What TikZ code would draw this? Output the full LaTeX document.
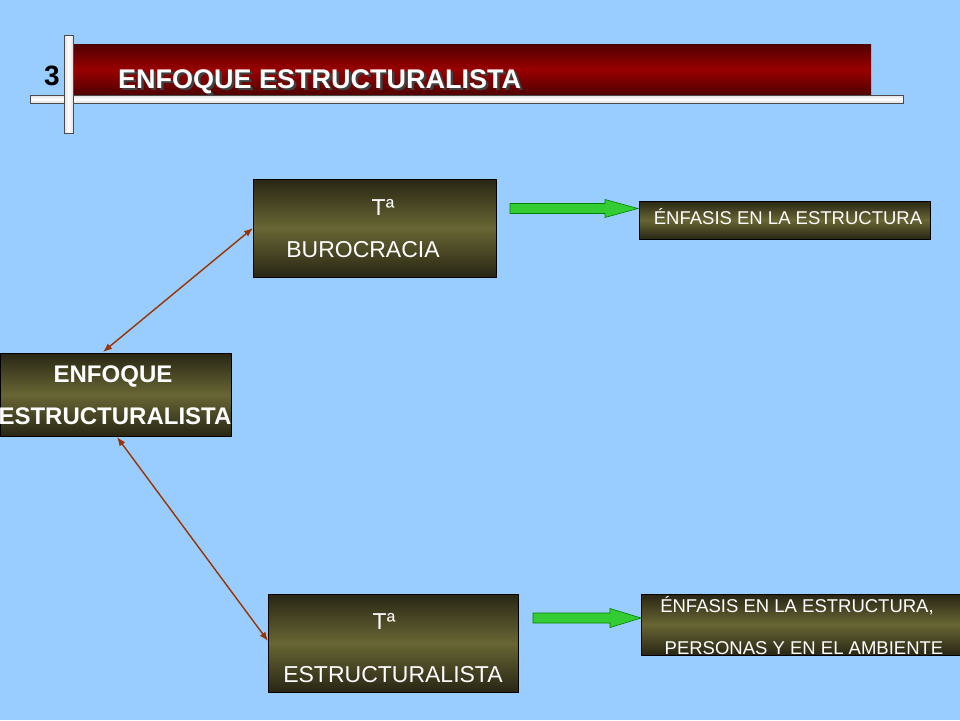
\documentclass[tikz,border=0pt]{standalone}
\usepackage{fontspec}
\setmainfont{Liberation Sans}
\usetikzlibrary{arrows.meta}
\definecolor{bg}{RGB}{153,204,255}
\definecolor{olivemid}{RGB}{104,102,52}
\definecolor{olivedark}{RGB}{40,38,20}
\definecolor{redmid}{RGB}{153,0,0}
\definecolor{reddark}{RGB}{80,0,0}
\definecolor{conn}{RGB}{153,51,0}
\definecolor{greenarr}{RGB}{51,204,51}
\newcommand{\shadowtext}[1]{\rlap{\kern2.5pt\raisebox{-2pt}{\color{black!75}#1}}#1}
\tikzset{
  x=1pt,y=-1pt,
  obox/.style={draw=black,line width=0.6pt,top color=olivedark,bottom color=olivedark,middle color=olivemid},
  wtext/.style={text=white,inner sep=0pt,anchor=base},
  link/.style={draw=conn,line width=1.4pt,{Latex[length=9pt,width=7pt]}-{Latex[length=9pt,width=7pt]}},
  garrow/.style={draw=black!50!green,line width=0.6pt,fill=greenarr},
}
\begin{document}
\begin{tikzpicture}
\useasboundingbox (0,0) rectangle (960,720);
\fill[bg] (0,0) rectangle (960,720);
% title bar
\shade[top color=reddark,bottom color=reddark,middle color=redmid] (72,44) rectangle (871,95);
\draw[line width=0.6pt,draw=black!70,top color=white!75!gray,bottom color=white!75!gray,middle color=white] (30,95) rectangle (903,103);
\draw[line width=0.6pt,draw=black!70,left color=white!75!gray,right color=white!75!gray,middle color=white] (64,35) rectangle (73,133);
\node[text=black,font=\bfseries\fontsize{28}{28}\selectfont,inner sep=0pt,anchor=base] (num) at (52,85) {3};
\node[text=white,font=\bfseries\fontsize{27}{27}\selectfont,inner sep=0pt,anchor=base west] (title) at (118,88) {\shadowtext{ENFOQUE ESTRUCTURALISTA}};
% boxes
\path[obox] (253,179) rectangle (496,277);
\coordinate (bur) at (253,228);
\node[wtext,font=\fontsize{23}{23}\selectfont] (burT) at (383,215) {Tª};
\node[wtext,font=\fontsize{23}{23}\selectfont] (burN) at (363,257) {BUROCRACIA};
\path[obox] (639,201) rectangle (930,239);
\node[wtext,font=\fontsize{18.5}{18.5}\selectfont] (enf1) at (788,224) {ÉNFASIS EN LA ESTRUCTURA};
\path[obox] (0,353) rectangle (231,436);
\node[wtext,font=\bfseries\fontsize{24}{24}\selectfont] (enfA) at (113,382) {ENFOQUE};
\node[wtext,font=\bfseries\fontsize{24}{24}\selectfont] (enfB) at (115,424) {ESTRUCTURALISTA};
\coordinate (cTop) at (103,352);
\coordinate (cBot) at (117,437);
\path[obox] (268,594) rectangle (518,692);
\coordinate (est) at (268,641);
\node[wtext,font=\fontsize{23}{23}\selectfont] (estT) at (384,629) {Tª};
\node[wtext,font=\fontsize{23}{23}\selectfont] (estN) at (393,682) {ESTRUCTURALISTA};
\path[obox] (641,594) rectangle (960,655);
\node[wtext,font=\fontsize{18.5}{18.5}\selectfont] (enf2a) at (797,612) {ÉNFASIS EN LA ESTRUCTURA,};
\node[wtext,font=\fontsize{18.5}{18.5}\selectfont] (enf2b) at (804,654) {PERSONAS Y EN EL AMBIENTE};
% connectors
\draw[link] (cTop) -- (bur);
\draw[link] (cBot) -- (est);
% green arrows
\coordinate (g1) at (510,208.5);
\draw[garrow] (g1) ++(0,-5) -- ++(95,0) -- ++(0,-4) -- (638,208.5) -- (605,217.5) -- ++(0,-4) -- ++(-95,0) -- cycle;
\coordinate (g2) at (533,618);
\draw[garrow] (g2) ++(0,-5) -- ++(77,0) -- ++(0,-4.5) -- (641,618) -- (610,627.5) -- ++(0,-4.5) -- ++(-77,0) -- cycle;
\end{tikzpicture}
\end{document}
